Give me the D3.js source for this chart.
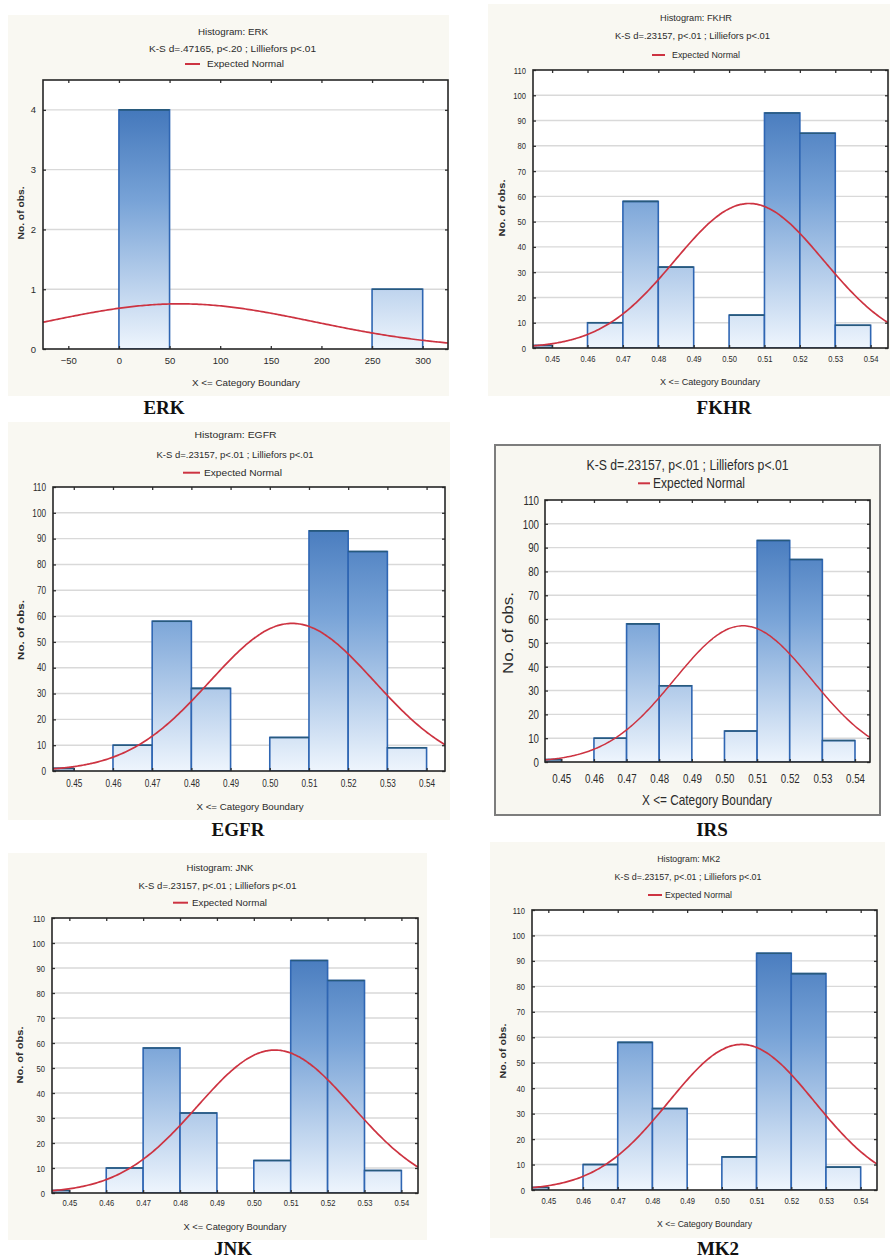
<!DOCTYPE html>
<html>
<head>
<meta charset="utf-8">
<script src="https://cdn.jsdelivr.net/npm/d3@7/dist/d3.min.js"></script>
<style>
  html, body { margin: 0; padding: 0; background: #ffffff; }
  svg { display: block; }
</style>
</head>
<body>
<svg id="fig" width="890" height="1259"></svg>
<script>
// ---- ERK: raw expression histogram ----
const erkEdges = [0, 50, 100, 150, 200, 250, 300];
const erkCounts = [4, 0, 0, 0, 0, 1];
const erkXTicks = [-50, 0, 50, 100, 150, 200, 250, 300];
const erkYTicks = [0, 1, 2, 3, 4];
const erkNormal = [60, 132];          // fitted mean, sd

// ---- ratio histograms (FKHR, EGFR, IRS, JNK, MK2) ----
const ratioEdges = [0.44, 0.45, 0.46, 0.47, 0.48, 0.49, 0.50, 0.51, 0.52, 0.53, 0.54];
const fkhrCounts = [1, 0, 10, 58, 32, 0, 13, 93, 85, 9];
const egfrCounts = [1, 0, 10, 58, 32, 0, 13, 93, 85, 9];
const irsCounts  = [1, 0, 10, 58, 32, 0, 13, 93, 85, 9];
const jnkCounts  = [1, 0, 10, 58, 32, 0, 13, 93, 85, 9];
const mk2Counts  = [1, 0, 10, 58, 32, 0, 13, 93, 85, 9];
const ratioXTicks = [0.45, 0.46, 0.47, 0.48, 0.49, 0.50, 0.51, 0.52, 0.53, 0.54];
const ratioYTicks = [0, 10, 20, 30, 40, 50, 60, 70, 80, 90, 100, 110];
const ratioNormal = [0.5057, 0.021];  // fitted mean, sd

const ksErk   = "K-S d=.47165, p<.20 ; Lilliefors p<.01";
const ksRatio = "K-S d=.23157, p<.01 ; Lilliefors p<.01";
const legendText = "Expected Normal";
const xTitleText = "X <= Category Boundary";
const yTitleText = "No. of obs.";

// ---- page layout of the six panels ----
const SANS = "'Liberation Sans', Arial, sans-serif";
const NARROW = "'Liberation Sans Narrow', 'Arial Narrow', 'Liberation Sans', sans-serif";
const SERIF = "'Liberation Serif', 'Times New Roman', serif";

const panels = [
  { name: "ERK", counts: erkCounts, edges: erkEdges, xTicks: erkXTicks, yTicks: erkYTicks, fit: erkNormal,
    xDomain: [-75, 325], yDomain: [0, 4.5], fmt: d3.format("d"), ks: ksErk,
    frame: [43, 80, 448, 349], card: [8, 15, 449, 396],
    title: { cx: 233, y: 34.5, w: 70 }, ksPos: { cx: 232.5, y: 52, w: 167 },
    legend: { x1: 185, x2: 200, tx: 207, y: 64, w: 77 },
    yLabel: { x: 24, cy: 213, w: 53 }, xTitle: { cx: 246, y: 386, w: 108 },
    xTickDy: 16.5, label: { x: 164, y: 414 }, small: true, tickFamily: SANS, tickSize: 9.5, squeeze: 1 },
  { name: "FKHR", counts: fkhrCounts, edges: ratioEdges, xTicks: ratioXTicks, yTicks: ratioYTicks, fit: ratioNormal,
    xDomain: [0.4446, 0.5449], yDomain: [0, 110], fmt: d3.format(".2f"), ks: ksRatio,
    frame: [533, 70, 888, 348], card: [488, 4, 890, 396],
    title: { cx: 696, y: 21, w: 72 }, ksPos: { cx: 692.5, y: 39, w: 155 },
    legend: { x1: 652, x2: 665, tx: 672, y: 55, w: 68 },
    yLabel: { x: 504.5, cy: 208, w: 57 }, xTitle: { cx: 710, y: 385, w: 100 },
    xTickDy: 15.5, label: { x: 724, y: 414 }, small: true, tickFamily: SANS, tickSize: 9.5, squeeze: 0.8 },
  { name: "EGFR", counts: egfrCounts, edges: ratioEdges, xTicks: ratioXTicks, yTicks: ratioYTicks, fit: ratioNormal,
    xDomain: [0.4447, 0.5447], yDomain: [0, 110], fmt: d3.format(".2f"), ks: ksRatio,
    frame: [53, 487, 445, 771], card: [8, 422, 450, 820],
    title: { cx: 235.5, y: 438, w: 82 }, ksPos: { cx: 235, y: 458, w: 157 },
    legend: { x1: 183, x2: 200, tx: 204, y: 472.7, w: 78 },
    yLabel: { x: 23.5, cy: 630, w: 60 }, xTitle: { cx: 250, y: 810, w: 107 },
    xTickDy: 17, label: { x: 238, y: 836 }, small: true, tickFamily: SANS, tickSize: 10, squeeze: 0.82 },
  { name: "IRS", counts: irsCounts, edges: ratioEdges, xTicks: ratioXTicks, yTicks: ratioYTicks, fit: ratioNormal,
    xDomain: [0.445, 0.5446], yDomain: [0, 110], fmt: d3.format(".2f"), ks: ksRatio,
    frame: [545, 500, 870, 762], box: [495, 445, 880, 815],
    title: null, ksPos: { cx: 687.5, y: 470, w: 202 },
    legend: { x1: 638, x2: 650, tx: 653, y: 483.3, w: 92 },
    yLabel: { x: 513, cy: 633, w: 82 }, xTitle: { cx: 707, y: 805, w: 130 },
    xTickDy: 19, label: { x: 712, y: 836 }, small: false, tickFamily: SANS, tickSize: 13.5, squeeze: 0.72 },
  { name: "JNK", counts: jnkCounts, edges: ratioEdges, xTicks: ratioXTicks, yTicks: ratioYTicks, fit: ratioNormal,
    xDomain: [0.4453, 0.5445], yDomain: [0, 110], fmt: d3.format(".2f"), ks: ksRatio,
    frame: [52, 918, 418, 1193], card: [8, 853, 427, 1240],
    title: { cx: 220, y: 871, w: 67 }, ksPos: { cx: 217.5, y: 889, w: 158 },
    legend: { x1: 173, x2: 188, tx: 192, y: 902.7, w: 75 },
    yLabel: { x: 23, cy: 1055, w: 57 }, xTitle: { cx: 235, y: 1230, w: 103 },
    xTickDy: 14.5, label: { x: 233, y: 1255 }, small: true, tickFamily: SANS, tickSize: 9.5, squeeze: 0.8 },
  { name: "MK2", counts: mk2Counts, edges: ratioEdges, xTicks: ratioXTicks, yTicks: ratioYTicks, fit: ratioNormal,
    xDomain: [0.4453, 0.5447], yDomain: [0, 110], fmt: d3.format(".2f"), ks: ksRatio,
    frame: [532, 910, 877, 1190], card: [490, 842, 885, 1238],
    title: { cx: 688.7, y: 862, w: 63 }, ksPos: { cx: 688, y: 880, w: 147 },
    legend: { x1: 648, x2: 662, tx: 665, y: 895, w: 67 },
    yLabel: { x: 506, cy: 1051, w: 55 }, xTitle: { cx: 704.5, y: 1227, w: 95 },
    xTickDy: 15.5, label: { x: 718, y: 1255 }, small: true, tickFamily: SANS, tickSize: 9.5, squeeze: 0.8 }
];

const svg = d3.select("#fig");
const defs = svg.append("defs");
svg.append("rect").attr("width", 890).attr("height", 1259).attr("fill", "#ffffff");

function label(g, s, x, y, o) {
  const t = g.append("text")
    .attr("x", x).attr("y", y).text(s)
    .attr("font-family", o.family || SANS)
    .attr("font-size", o.size)
    .attr("fill", o.fill || "#2b2b2b")
    .attr("text-anchor", o.anchor || "middle");
  if (o.weight) t.attr("font-weight", o.weight);
  if (o.len) t.attr("textLength", o.len).attr("lengthAdjust", "spacingAndGlyphs");
  if (o.rotate) t.attr("transform", `rotate(-90,${x},${y})`);
  return t;
}

function normalPdf(x, mu, sd) {
  const z = (x - mu) / sd;
  return Math.exp(-0.5 * z * z) / (sd * Math.sqrt(2 * Math.PI));
}

panels.forEach((p, idx) => {
  const g = svg.append("g").attr("class", "panel-" + p.name);
  const [l, t, r, b] = p.frame;
  const hdr = p.small ? 9 : 15;
  const hdrFamily = p.small ? SANS : NARROW;

  // panel background
  if (p.card) {
    const [x0, y0, x1, y1] = p.card;
    g.append("rect").attr("x", x0).attr("y", y0).attr("width", x1 - x0).attr("height", y1 - y0)
      .attr("fill", "#f9f8f2");
  }
  if (p.box) {
    const [x0, y0, x1, y1] = p.box;
    g.append("rect").attr("x", x0).attr("y", y0).attr("width", x1 - x0).attr("height", y1 - y0)
      .attr("fill", "#f8f7f1").attr("stroke", "#7d7d7d").attr("stroke-width", 2);
  }

  const x = d3.scaleLinear().domain(p.xDomain).range([l, r]);
  const y = d3.scaleLinear().domain(p.yDomain).range([b, t]);

  // bar fill runs from the top of the plot to its baseline
  const grad = defs.append("linearGradient").attr("id", "fill-" + idx)
    .attr("gradientUnits", "userSpaceOnUse")
    .attr("x1", 0).attr("x2", 0).attr("y1", t).attr("y2", b);
  grad.append("stop").attr("offset", 0).attr("stop-color", "#336ab3");
  grad.append("stop").attr("offset", 0.45).attr("stop-color", "#78a3d7");
  grad.append("stop").attr("offset", 1).attr("stop-color", "#eef5fd");

  defs.append("clipPath").attr("id", "clip-" + idx)
    .append("rect").attr("x", l).attr("y", t).attr("width", r - l).attr("height", b - t);

  // plot area
  g.append("rect").attr("x", l).attr("y", t).attr("width", r - l).attr("height", b - t).attr("fill", "#ffffff");

  // horizontal grid
  g.append("g").selectAll("line")
    .data(p.yTicks.filter(v => v > p.yDomain[0] && v < p.yDomain[1]))
    .join("line")
    .attr("x1", l).attr("x2", r)
    .attr("y1", d => y(d)).attr("y2", d => y(d))
    .attr("stroke", "#d9d9d9").attr("stroke-width", 1.4);

  const plot = g.append("g").attr("clip-path", `url(#clip-${idx})`);

  // histogram bars
  const bins = p.counts.map((c, i) => ({ x0: p.edges[i], x1: p.edges[i + 1], n: c })).filter(d => d.n > 0);
  plot.selectAll("rect.bar").data(bins).join("rect").attr("class", "bar")
    .attr("x", d => x(d.x0)).attr("width", d => x(d.x1) - x(d.x0))
    .attr("y", d => y(d.n)).attr("height", d => y(0) - y(d.n))
    .attr("fill", `url(#fill-${idx})`)
    .attr("stroke", "#2f66b3").attr("stroke-width", 1.6);
  plot.selectAll("line.cap").data(bins).join("line").attr("class", "cap")
    .attr("x1", d => x(d.x0)).attr("x2", d => x(d.x1))
    .attr("y1", d => y(d.n)).attr("y2", d => y(d.n))
    .attr("stroke", "#285a7c").attr("stroke-width", 1.6);

  // expected normal curve: total count * bin width * density
  const n = d3.sum(p.counts);
  const width = p.edges[1] - p.edges[0];
  const [mu, sd] = p.fit;
  const xs = d3.range(0, 201).map(i => p.xDomain[0] + (p.xDomain[1] - p.xDomain[0]) * i / 200);
  plot.append("path")
    .datum(xs)
    .attr("d", d3.line().x(v => x(v)).y(v => y(n * width * normalPdf(v, mu, sd))).curve(d3.curveMonotoneX))
    .attr("fill", "none").attr("stroke", "#cd3341").attr("stroke-width", p.small ? 1.7 : 1.5);

  // axes with inward ticks on all four sides; labels condensed to the narrow face
  const tickFont = (sel) => sel.selectAll("text")
    .attr("font-family", p.tickFamily).attr("font-size", p.tickSize).attr("fill", "#2b2b2b")
    .each(function () {
      if (p.squeeze < 1) {
        const w = this.getComputedTextLength();
        d3.select(this).attr("textLength", w * p.squeeze).attr("lengthAdjust", "spacingAndGlyphs");
      }
    });
  const xb = g.append("g").attr("transform", `translate(0,${b})`)
    .call(d3.axisBottom(x).tickValues(p.xTicks).tickFormat(p.fmt).tickSizeInner(-3).tickSizeOuter(0).tickPadding(p.xTickDy - 8));
  xb.select(".domain").remove();
  xb.selectAll("line").attr("stroke", "#333").attr("stroke-width", 1.3);
  tickFont(xb);
  const xt = g.append("g").attr("transform", `translate(0,${t})`)
    .call(d3.axisTop(x).tickValues(p.xTicks).tickFormat("").tickSizeInner(-3).tickSizeOuter(0));
  xt.select(".domain").remove();
  xt.selectAll("line").attr("stroke", "#333").attr("stroke-width", 1.3);
  const yl = g.append("g").attr("transform", `translate(${l},0)`)
    .call(d3.axisLeft(y).tickValues(p.yTicks).tickFormat(d3.format("d")).tickSizeInner(-3).tickSizeOuter(0).tickPadding(p.small ? 7 : 6));
  yl.select(".domain").remove();
  yl.selectAll("line").attr("stroke", "#333").attr("stroke-width", 1.3);
  tickFont(yl);
  const yr = g.append("g").attr("transform", `translate(${r},0)`)
    .call(d3.axisRight(y).tickValues(p.yTicks).tickFormat("").tickSizeInner(-3).tickSizeOuter(0));
  yr.select(".domain").remove();
  yr.selectAll("line").attr("stroke", "#333").attr("stroke-width", 1.3);

  // frame
  g.append("rect").attr("x", l).attr("y", t).attr("width", r - l).attr("height", b - t)
    .attr("fill", "none").attr("stroke", "#262626").attr("stroke-width", 1.6);

  // header: title, test statistics, legend
  if (p.title) label(g, "Histogram: " + p.name, p.title.cx, p.title.y, { size: hdr, family: hdrFamily, len: p.title.w });
  label(g, p.ks, p.ksPos.cx, p.ksPos.y, { size: hdr, family: hdrFamily, len: p.ksPos.w });
  g.append("line").attr("x1", p.legend.x1).attr("x2", p.legend.x2)
    .attr("y1", p.legend.y).attr("y2", p.legend.y)
    .attr("stroke", "#cd3341").attr("stroke-width", 2);
  label(g, legendText, p.legend.tx, p.legend.y + (p.small ? 3 : 5), { size: hdr, family: hdrFamily, anchor: "start", len: p.legend.w });

  // axis titles
  label(g, yTitleText, p.yLabel.x, p.yLabel.cy, { size: hdr, family: hdrFamily, weight: p.small ? "bold" : null, rotate: true, len: p.yLabel.w });
  label(g, xTitleText, p.xTitle.cx, p.xTitle.y, { size: hdr, family: hdrFamily, len: p.xTitle.w });

  // gene name below the panel
  label(g, p.name, p.label.x, p.label.y, { size: 19, family: SERIF, weight: "bold", fill: "#111" });
});
</script>
</body>
</html>
